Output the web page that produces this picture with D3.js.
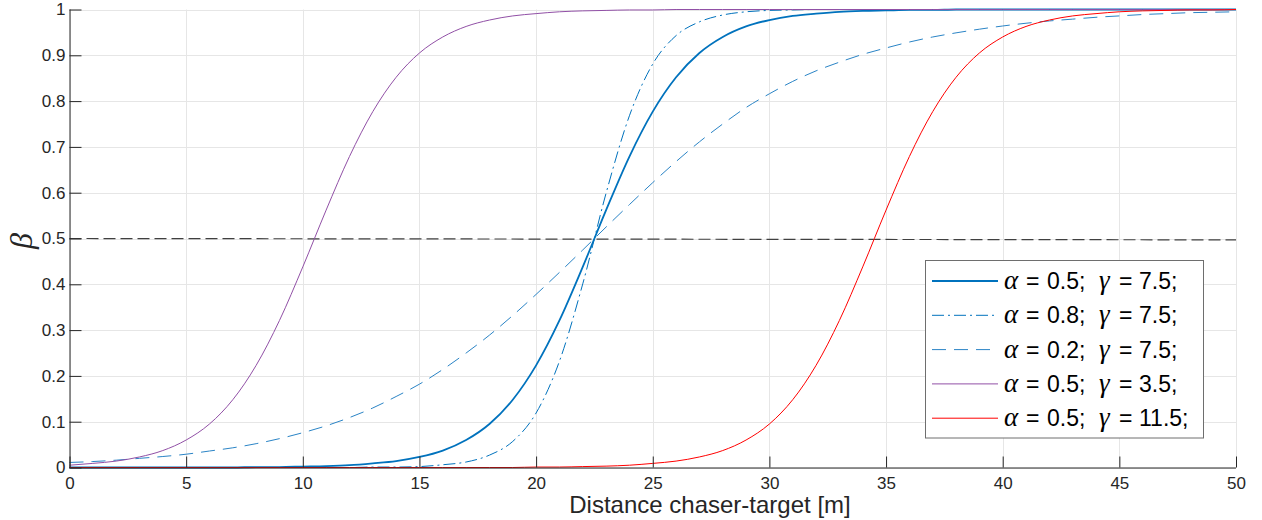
<!DOCTYPE html>
<html>
<head>
<meta charset="utf-8">
<script src="https://cdn.jsdelivr.net/npm/d3@7"></script>
<style>
  body { margin: 0; background: #fff; }
  svg { display: block; }
</style>
</head>
<body>
<svg id="chart" width="1262" height="520"></svg>
<script>
// distance chaser-target, one sample per metre
var xs = d3.range(0, 51);

// beta values at each metre
var a05g75 = [0,0,0,0,0,0,0,0,0.001,0.001,0.002,0.003,0.005,0.009,0.014,0.023,0.037,0.060,0.095,0.148,
  0.223,0.321,0.438,0.562,0.679,0.777,0.852,0.905,0.940,0.963,0.977,0.986,0.991,0.995,0.997,0.998,0.999,0.999,1,1,
  1,1,1,1,1,1,1,1,1,1,1];
var a08g75 = [0,0,0,0,0,0,0,0,0,0,0,0,0,0.001,0.001,0.002,0.006,0.012,0.027,0.057,
  0.119,0.232,0.401,0.599,0.768,0.881,0.943,0.973,0.988,0.995,0.998,0.999,1,1,1,1,1,1,1,1,
  1,1,1,1,1,1,1,1,1,1,1];
var a02g75 = [0.011,0.013,0.016,0.020,0.024,0.029,0.036,0.043,0.052,0.063,0.076,0.091,0.109,0.130,0.155,0.182,0.214,0.250,0.289,0.332,
  0.378,0.426,0.475,0.525,0.574,0.622,0.668,0.711,0.750,0.786,0.816,0.843,0.866,0.885,0.902,0.916,0.929,0.940,0.949,0.957,
  0.964,0.970,0.975,0.979,0.983,0.986,0.989,0.991,0.993,0.994,0.995];
var a05g35 = [0.005,0.009,0.014,0.023,0.037,0.060,0.095,0.148,0.223,0.321,0.438,0.562,0.679,0.777,0.852,0.905,0.940,0.963,0.977,0.986,
  0.991,0.995,0.997,0.998,0.999,0.999,1,1,1,1,1,1,1,1,1,1,1,1,1,1,
  1,1,1,1,1,1,1,1,1,1,1];
var a05g115 = [0,0,0,0,0,0,0,0,0,0,0,0,0,0,0,0,0,0,0,0,
  0.001,0.001,0.002,0.003,0.005,0.009,0.014,0.023,0.037,0.060,0.095,0.148,0.223,0.321,0.438,0.562,0.679,0.777,0.852,0.905,
  0.940,0.963,0.977,0.986,0.991,0.995,0.997,0.998,0.999,0.999,1];

// reference line at beta = 0.5
var refX = [0, 50];
var refY = [0.5, 0.497];

var alphas = ["0.5;", "0.8;", "0.2;", "0.5;", "0.5;"];
var gammas = ["7.5;", "7.5;", "7.5;", "3.5;", "11.5;"];

var xTicks = d3.range(0, 51, 5);
var yTicks = d3.range(0, 11).map(function (i) { return i / 10; });

(function () {
  var left = 69.5, right = 1236, top = 9.5, bottom = 467.5;
  var svg = d3.select("#chart");

  var x = d3.scaleLinear().domain([0, 50]).range([left, right]);
  var y = d3.scaleLinear().domain([0, 1]).range([bottom, top]);

  var axisColor = "#262626";
  var sans = "'Liberation Sans', Arial, sans-serif";
  var serif = "'Liberation Serif', 'DejaVu Serif', serif";

  // grid
  var grid = svg.append("g");
  grid.selectAll("line.gx").data(xTicks).join("line")
    .attr("x1", function (d) { return Math.round(x(d)) + 0.5; })
    .attr("x2", function (d) { return Math.round(x(d)) + 0.5; })
    .attr("y1", top).attr("y2", bottom)
    .style("stroke", "#e6e6e6").style("stroke-width", 1);
  grid.selectAll("line.gy").data(yTicks).join("line")
    .attr("y1", function (d) { return Math.round(y(d)) + 0.5; })
    .attr("y2", function (d) { return Math.round(y(d)) + 0.5; })
    .attr("x1", left).attr("x2", right)
    .style("stroke", "#e6e6e6").style("stroke-width", 1);

  var series = [
    { v: a05g75, color: "#0072BD", w: 1.8, dash: null },
    { v: a08g75, color: "#0072BD", w: 1, dash: "12,4,2,4" },
    { v: a02g75, color: "#2a84c6", w: 1, dash: "14,8" },
    { v: a05g35, color: "#9150a6", w: 1, dash: null },
    { v: a05g115, color: "#ff0000", w: 1, dash: null }
  ];

  var line = d3.line()
    .x(function (d) { return x(d[0]); })
    .y(function (d) { return y(d[1]); })
    .curve(d3.curveMonotoneX);

  // reference line
  svg.append("path")
    .attr("d", line(refX.map(function (d, i) { return [d, refY[i]]; })))
    .style("fill", "none").style("stroke", "#404040")
    .style("stroke-width", 1.2).style("stroke-dasharray", "12,5");

  var plot = svg.append("g");
  plot.selectAll("path").data(series).join("path")
    .attr("d", function (s) { return line(xs.map(function (d, i) { return [d, s.v[i]]; })); })
    .style("fill", "none")
    .style("stroke", function (s) { return s.color; })
    .style("stroke-width", function (s) { return s.w; })
    .style("stroke-dasharray", function (s) { return s.dash; });

  // axes
  var xAxis = d3.axisBottom(x).tickValues(xTicks).tickSize(-11).tickPadding(9).tickFormat(d3.format("d"));
  var yAxis = d3.axisLeft(y).tickValues(yTicks).tickSize(-12).tickPadding(4)
    .tickFormat(function (d) { return d === 0 ? "0" : d === 1 ? "1" : d3.format(".1f")(d); });

  var gx = svg.append("g").attr("transform", "translate(0," + bottom + ")").call(xAxis);
  var gy = svg.append("g").attr("transform", "translate(" + left + ",0)").call(yAxis);
  [gx, gy].forEach(function (g) {
    g.select(".domain").style("stroke", axisColor).style("stroke-width", 1);
    g.selectAll(".tick line").style("stroke", axisColor).style("stroke-width", 1);
    g.selectAll(".tick text").style("fill", axisColor)
      .style("font-family", sans).style("font-size", "17px");
  });
  gx.select(".domain").attr("d", "M" + left + ",0.5H" + right);
  gy.select(".domain").attr("d", "M0.5," + top + "V" + bottom);

  // axis titles
  svg.append("text")
    .attr("x", 710).attr("y", 513)
    .attr("text-anchor", "middle")
    .style("font-family", sans)
    .style("font-size", "24px").style("fill", axisColor)
    .text("Distance chaser-target [m]");

  svg.append("text")
    .attr("transform", "translate(32,241) rotate(-90)")
    .attr("text-anchor", "middle")
    .style("font-family", serif)
    .style("font-style", "italic")
    .style("font-size", "32px").style("fill", axisColor)
    .text("β");

  // legend
  var lg = svg.append("g");
  lg.append("rect")
    .attr("x", 925.5).attr("y", 260.5).attr("width", 278).attr("height", 177.5)
    .style("fill", "#fff").style("stroke", "#6e6e6e").style("stroke-width", 1);

  var rows = lg.selectAll("g.row").data(series).join("g")
    .attr("transform", function (s, i) { return "translate(0," + (281 + i * 34.3) + ")"; });
  rows.append("line")
    .attr("x1", 932).attr("x2", 998).attr("y1", 0).attr("y2", 0)
    .style("stroke", function (s) { return s.color; })
    .style("stroke-width", function (s) { return s.w; })
    .style("stroke-dasharray", function (s) { return s.dash; });

  function piece(xp, txt, greek) {
    rows.append("text")
      .attr("x", xp).attr("y", 8)
      .style("font-family", greek ? serif : sans)
      .style("font-style", greek ? "italic" : "normal")
      .style("font-size", greek ? "27px" : "23px")
      .style("fill", "#000")
      .text(txt);
  }
  piece(1004, "α", true);
  piece(1026, "=", false);
  rows.append("text").attr("x", 1047).attr("y", 8)
    .style("font-family", sans).style("font-size", "23px").style("fill", "#000")
    .text(function (s, i) { return alphas[i]; });
  piece(1099, "γ", true);
  piece(1119, "=", false);
  rows.append("text").attr("x", 1139).attr("y", 8)
    .style("font-family", sans).style("font-size", "23px").style("fill", "#000")
    .text(function (s, i) { return gammas[i]; });
})();
</script>
</body>
</html>
